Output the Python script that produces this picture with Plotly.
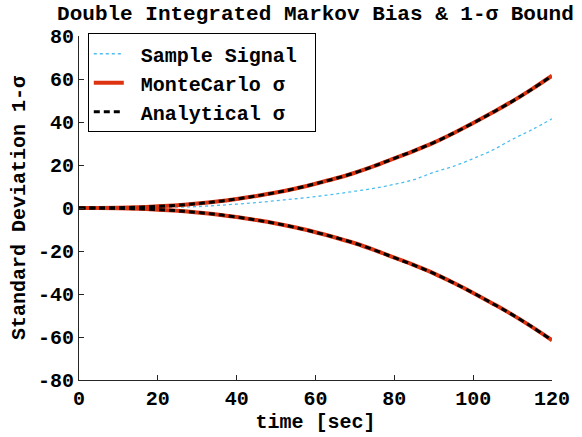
import plotly.graph_objects as go

t = [0, 5, 10, 15, 20, 25, 30, 35, 40, 45, 50, 55, 60, 65, 70, 75, 80, 85, 90, 95, 100, 105, 110, 115, 120]
sample_signal = [0, 0, 0.02, 0.08, 0.2, 0.4, 0.65, 1.2, 1.8, 2.5, 3.4, 4.3, 5.3, 6.5, 7.8, 9.2, 11.0, 13.2,
                 16.6, 19.4, 23.0, 27.0, 32.0, 36.5, 41.5]
mc_sigma = [0, 0.02, 0.14, 0.38, 0.76, 1.3, 2.06, 3.0, 4.2, 5.6, 7.2, 9.1, 11.3, 13.7, 16.4, 19.6, 23.1, 26.6,
            30.4, 34.8, 39.5, 44.5, 49.7, 55.4, 61.5]
an_sigma = [0, 0.02, 0.14, 0.38, 0.76, 1.3, 2.06, 3.0, 4.2, 5.6, 7.2, 9.1, 11.3, 13.7, 16.4, 19.6, 23.1, 26.6,
            30.4, 34.8, 39.5, 44.5, 49.7, 55.4, 61.5]

FONT = "Liberation Mono"
BLUE = "#4DBEEE"
RED = "#DD3311"
FS = 20
NB = "\u00a0"

fig = go.Figure()
fig.add_trace(go.Scatter(x=t, y=sample_signal, mode="lines", name=f"<b>{NB}Sample Signal{NB}</b>",
                         line=dict(color=BLUE, width=1.3, dash="dot"), line_shape="spline"))
fig.add_trace(go.Scatter(x=t, y=mc_sigma, mode="lines", name=f"<b>{NB}MonteCarlo σ</b>",
                         line=dict(color=RED, width=4), line_shape="spline", legendgroup="mc"))
fig.add_trace(go.Scatter(x=t, y=[-v for v in mc_sigma], mode="lines", showlegend=False,
                         line=dict(color=RED, width=4), line_shape="spline", legendgroup="mc"))
fig.add_trace(go.Scatter(x=t, y=an_sigma, mode="lines", name=f"<b>{NB}Analytical σ</b>",
                         line=dict(color="black", width=3, dash="6px,4px"), line_shape="spline", legendgroup="an"))
fig.add_trace(go.Scatter(x=t, y=[-v for v in an_sigma], mode="lines", showlegend=False,
                         line=dict(color="black", width=3, dash="6px,4px"), line_shape="spline", legendgroup="an"))

axis_common = dict(showgrid=False, zeroline=False, showline=True, linecolor="#262626", linewidth=1,
                   ticks="inside", ticklen=5, tickcolor="#262626", mirror=False,
                   tickfont=dict(family=FONT, size=FS, color="black"))

fig.update_layout(
    width=582, height=437,
    margin=dict(l=79, r=19, t=36, b=50),
    paper_bgcolor="white", plot_bgcolor="white",
    font=dict(family=FONT, size=FS, color="black"),
    title=dict(text="<b>Double Integrated Markov Bias & 1-σ Bound</b>", x=0.542, xanchor="center",
               y=0.972, yanchor="middle", font=dict(family=FONT, size=21, color="black")),
    xaxis=dict(range=[0, 120], tickvals=[0, 20, 40, 60, 80, 100, 120],
               ticktext=["<b>0</b>", "<b>20</b>", "<b>40</b>", "<b>60</b>", "<b>80</b>", "<b>100</b>", "<b>120</b>"],
               title=dict(text="<b>time [sec]</b>", standoff=0, font=dict(family=FONT, size=FS)),
               **axis_common),
    yaxis=dict(range=[-80, 80], tickvals=[-80, -60, -40, -20, 0, 20, 40, 60, 80],
               ticktext=["<b>-80</b>", "<b>-60</b>", "<b>-40</b>", "<b>-20</b>", "<b>0</b>", "<b>20</b>",
                         "<b>40</b>", "<b>60</b>", "<b>80</b>"],
               title=dict(text="<b>Standard Deviation 1-σ</b>", standoff=6, font=dict(family=FONT, size=FS)),
               **axis_common),
    legend=dict(x=0.0186, y=1.008, xanchor="left", yanchor="top", bgcolor="white",
                bordercolor="black", borderwidth=1, font=dict(family=FONT, size=FS),
                tracegroupgap=0, itemwidth=30),
    showlegend=True,
)

fig.write_html("out.html")
